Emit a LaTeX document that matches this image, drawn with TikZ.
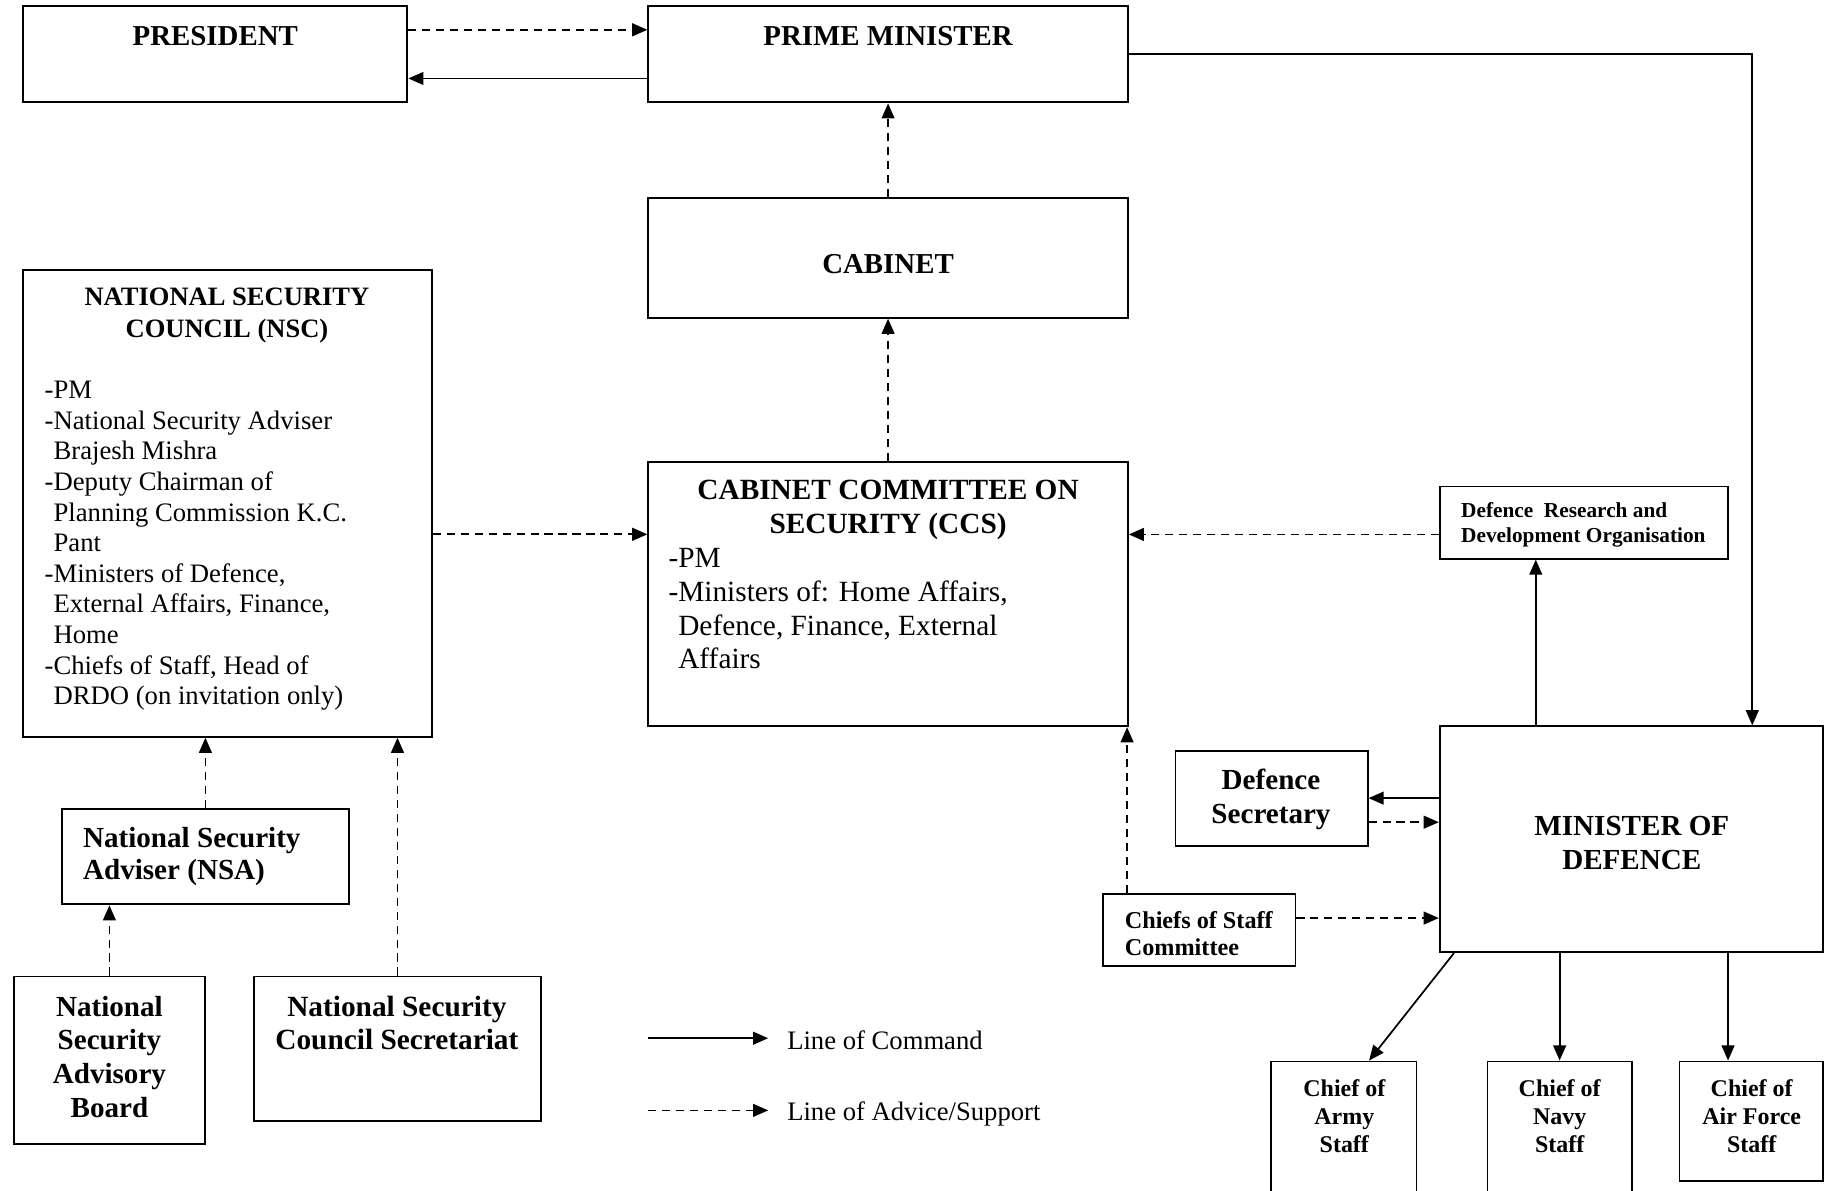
\documentclass[tikz,border=0pt]{standalone}
\usepackage{fontspec}
\setmainfont{Liberation Serif}
\usetikzlibrary{arrows.meta,fit,calc}
\begin{document}
\begin{tikzpicture}[x=0.5pt,y=-0.5pt,
  box/.style={draw, line width=0.8pt, inner sep=0pt},
  cmd/.style={line width=0.75pt, -{Triangle[length=6.5pt,width=5.5pt]}},
  adv/.style={line width=0.75pt, dash pattern=on 3.5pt off 2.5pt, -{Triangle[length=6.5pt,width=5.5pt]}},
  ttl/.style={inner sep=0pt, font=\bfseries\fontsize{12.4}{14.5}\selectfont, align=center},
  body/.style={inner sep=0pt, align=left},
]
\useasboundingbox (0,0) rectangle (1568,1023);
% boxes
\node[box, fit={(20,5) (350,88)}] (pres) {};
\node[box, fit={(557,5) (969,88)}] (pm) {};
\node[box, fit={(557,170) (969,273)}] (cab) {};
\node[box, fit={(20,232) (371,633)}] (nsc) {};
\node[box, fit={(557,397) (969,624)}] (ccs) {};
\node[box, fit={(1237,418) (1485,480)}] (drdo) {};
\node[box, fit={(1237,624) (1566,818)}] (mod) {};
\node[box, fit={(1010,645) (1175,727)}] (ds) {};
\node[box, fit={(948,768) (1113,830)}] (cosc) {};
\node[box, fit={(53,695) (300,777)}] (nsa) {};
\node[box, fit={(12,839) (176,983)}] (nsab) {};
\node[box, fit={(218,839) (465,963)}] (nscs) {};
\node[box, fit={(1092,912) (1217,1040)}] (army) {};
\node[box, fit={(1278,912) (1402,1040)}] (navy) {};
\node[box, fit={(1443,912) (1566,1015)}] (af) {};
% texts
\node[ttl] (presT) at (185,31) {PRESIDENT};
\node[ttl] (pmT) at (763,31) {PRIME MINISTER};
\node[ttl] (cabT) at (763,227) {CABINET};
\node[ttl, font=\bfseries\fontsize{11.4}{13.5}\selectfont] (nscT) at (195,271) {NATIONAL SECURITY\\COUNCIL (NSC)};
\node[body, anchor=west, font=\fontsize{11.46}{13.15}\selectfont] (nscB) at (38,469) {-PM\\-National Security Adviser\\\hphantom{-}Brajesh Mishra\\-Deputy Chairman of\\\hphantom{-}Planning Commission K.C.\\\hphantom{-}Pant\\-Ministers of Defence,\\\hphantom{-}External Affairs, Finance,\\\hphantom{-}Home\\-Chiefs of Staff, Head of\\\hphantom{-}DRDO (on invitation only)};
\node[ttl, font=\bfseries\fontsize{12.6}{14.5}\selectfont] (ccsT) at (763,438) {CABINET COMMITTEE ON\\SECURITY (CCS)};
\node[body, anchor=west, font=\fontsize{12.6}{14.5}\selectfont] (ccsB) at (574,523) {-PM\\-Ministers of: Home Affairs,\\\hphantom{-}Defence, Finance, External\\\hphantom{-}Affairs};
\node[body, anchor=west, font=\bfseries\fontsize{9.15}{10.5}\selectfont] (drdoT) at (1255,451) {Defence\ \ Research and\\Development Organisation};
\node[ttl, font=\bfseries\fontsize{12.5}{14.5}\selectfont] (modT) at (1402,724) {MINISTER OF\\DEFENCE};
\node[ttl, font=\bfseries\fontsize{12.5}{14.5}\selectfont] (dsT) at (1092,687) {Defence\\Secretary};
\node[body, anchor=west, font=\bfseries\fontsize{10.4}{11.5}\selectfont] (coscT) at (966,802) {Chiefs of Staff\\Committee};
\node[body, anchor=west, font=\bfseries\fontsize{12.5}{14}\selectfont] (nsaT) at (71,736) {National Security\\Adviser (NSA)};
\node[ttl, font=\bfseries\fontsize{12.5}{14.5}\selectfont] (nsabT) at (94,908) {National\\Security\\Advisory\\Board};
\node[ttl, font=\bfseries\fontsize{12.6}{14.5}\selectfont] (nscsT) at (341,879) {National Security\\Council Secretariat};
\node[ttl, font=\bfseries\fontsize{10.3}{12}\selectfont] (armyT) at (1155,959) {Chief of\\Army\\Staff};
\node[ttl, font=\bfseries\fontsize{10.3}{12}\selectfont] (navyT) at (1340,959) {Chief of\\Navy\\Staff};
\node[ttl, font=\bfseries\fontsize{10.3}{12}\selectfont] (afT) at (1505,959) {Chief of\\Air Force\\Staff};
% legend
\coordinate (l1a) at (557,892);
\coordinate (l1b) at (660,892);
\coordinate (l2a) at (557,954);
\coordinate (l2b) at (660,954);
\node[body, anchor=west, font=\fontsize{11.45}{13}\selectfont] (leg1) at (676,894) {Line of Command};
\node[body, anchor=west, font=\fontsize{11.45}{13}\selectfont] (leg2) at (676,957) {Line of Advice/Support};
\draw[cmd] (l1a) -- (l1b);
\draw[adv] (l2a) -- (l2b);
% connectors
\coordinate (p1) at ($(pres.north east)!0.253!(pres.south east)$);
\draw[adv] (p1) -- (p1 -| pm.west);
\coordinate (p2) at ($(pm.north west)!0.747!(pm.south west)$);
\draw[cmd] (p2) -- (p2 -| pres.east);
\coordinate (m1) at ($(mod.north west)!0.8146!(mod.north east)$);
\draw[cmd] (pm.east) -| (m1);
\draw[adv] (cab.north) -- (pm.south);
\draw[adv] (ccs.north) -- (cab.south);
\coordinate (n1) at ($(nsc.north east)!0.566!(nsc.south east)$);
\draw[adv] (n1) -- (n1 -| ccs.west);
\coordinate (d1) at ($(drdo.north west)!0.66!(drdo.south west)$);
\draw[adv] (d1) -- (d1 -| ccs.east);
\coordinate (m2) at ($(mod.north west)!0.252!(mod.north east)$);
\draw[cmd] (m2) -- (m2 |- drdo.south);
\coordinate (c1) at ($(cosc.north west)!0.127!(cosc.north east)$);
\draw[adv] (c1) -- (c1 |- ccs.south);
\coordinate (c2) at ($(cosc.north east)!0.339!(cosc.south east)$);
\draw[adv] (c2) -- (c2 -| mod.west);
\coordinate (m3) at ($(mod.north west)!0.3196!(mod.south west)$);
\draw[cmd] (m3) -- (m3 -| ds.east);
\coordinate (s1) at ($(ds.north east)!0.744!(ds.south east)$);
\draw[adv] (s1) -- (s1 -| mod.west);
\draw[adv] (nsa.north) -- (nsa.north |- nsc.south);
\draw[adv] (nscs.north) -- (nscs.north |- nsc.south);
\draw[adv] (nsab.north) -- (nsab.north |- nsa.south);
\coordinate (m4) at ($(mod.south west)!0.0395!(mod.south east)$);
\coordinate (a1) at ($(army.north west)!0.672!(army.north east)$);
\draw[cmd] (m4) -- (a1);
\draw[cmd] (navy.north |- mod.south) -- (navy.north);
\coordinate (f1) at ($(af.north west)!0.341!(af.north east)$);
\draw[cmd] (f1 |- mod.south) -- (f1);
\end{tikzpicture}
\end{document}
